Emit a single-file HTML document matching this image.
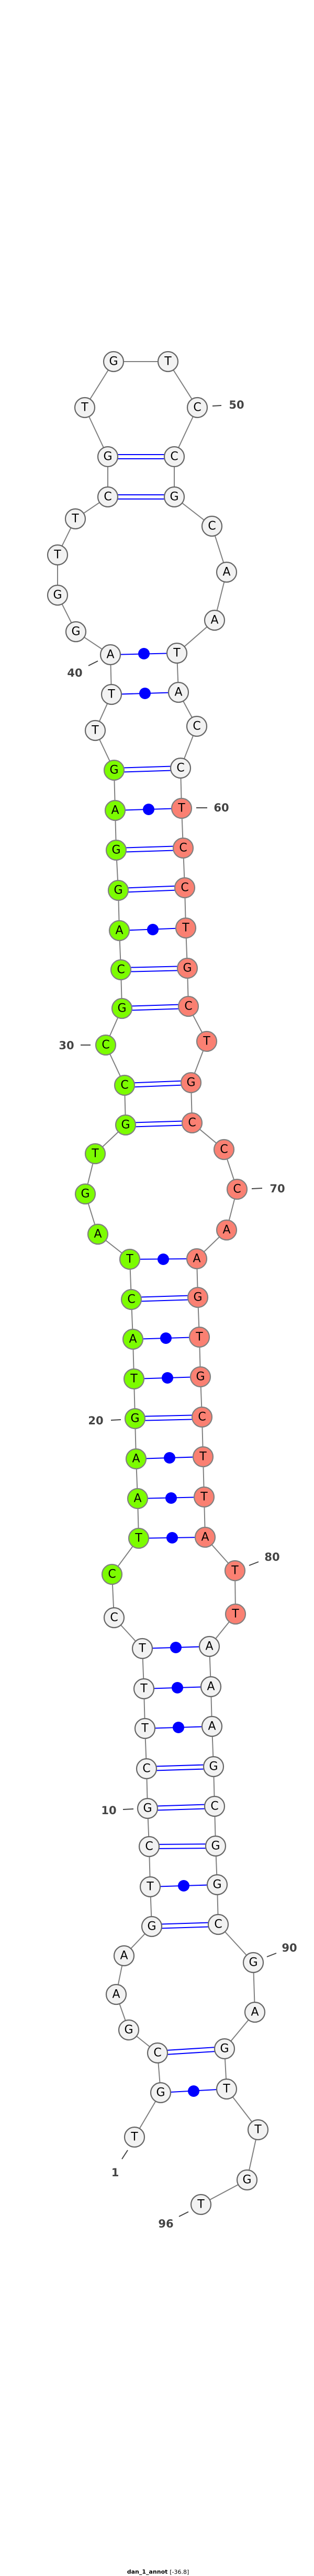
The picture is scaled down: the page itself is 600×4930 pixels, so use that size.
<!DOCTYPE html>
<html><head><meta charset="utf-8"><style>
html,body{margin:0;padding:0;background:#fff;}
svg{display:block;}
.n circle{stroke-width:2.2;}
.w{fill:#f2f2f2;stroke:#666;}
.g{fill:#7cfc00;stroke:#808080;}
.s{fill:#fa8072;stroke:#808080;}
.n text{font-family:"DejaVu Sans","Liberation Sans",sans-serif;font-size:22px;fill:#000;text-anchor:middle;dominant-baseline:central;}
.lb{font-family:"DejaVu Sans","Liberation Sans",sans-serif;font-size:21px;font-weight:bold;fill:#444;text-anchor:middle;dominant-baseline:central;}
.tk{stroke:#444;stroke-width:2;}
.p{stroke:#0000ff;stroke-width:2;}
</style></head><body>
<svg width="600" height="4930" viewBox="0 0 600 4930" xmlns="http://www.w3.org/2000/svg">
<rect width="600" height="4930" fill="#fff"/>
<polyline fill="none" stroke="#808080" stroke-width="2" points="257,4090 307,4005 301,3929 246,3885 222,3817 237,3743 290,3687 287,3611 285,3534 282,3461 280,3385 277,3308 275,3232 272,3155 218,3096 214,3013 265,2944 263,2868 260,2792 258,2715 256,2639 254,2563 251,2487 248,2410 187,2362 163,2285 182,2208 240,2153 238,2077 202,2000 233,1930 231,1856 228,1781 226,1704 222,1627 220,1551 218,1474 182,1398 213,1329 211,1253 145,1209 110,1139 110,1062 144,993 206,951 206,874 162,780 217,692 321,692 377,780 333,874 333,951 405,1007 433,1095 410,1187 338,1250 341,1325 376,1390 345,1470 347,1547 350,1623 353,1699 355,1776 358,1853 360,1926 395,1993 365,2072 367,2149 428,2200 453,2276 433,2354 376,2409 378,2483 381,2559 383,2635 386,2712 388,2788 390,2865 392,2942 449,3006 450,3089 400,3151 403,3228 405,3304 408,3381 410,3457 412,3533 415,3607 417,3683 484,3756 487,3851 429,3921 433,3998 493,4076 472,4172 384,4219"/>
<g class="p">
<!-- dot pairs -->
<line x1="307" y1="4005" x2="433" y2="3998"/><circle cx="370" cy="4002" r="11" fill="#00f" stroke="none"/>
<line x1="287" y1="3611" x2="415" y2="3607"/><circle cx="351" cy="3609" r="11" fill="#00f" stroke="none"/>
<line x1="277" y1="3308" x2="405" y2="3304"/><circle cx="341" cy="3306" r="11" fill="#00f" stroke="none"/>
<line x1="275" y1="3232" x2="403" y2="3228"/><circle cx="339" cy="3230" r="11" fill="#00f" stroke="none"/>
<line x1="272" y1="3155" x2="400" y2="3151"/><circle cx="336" cy="3153" r="11" fill="#00f" stroke="none"/>
<line x1="265" y1="2944" x2="392" y2="2942"/><circle cx="329" cy="2943" r="11" fill="#00f" stroke="none"/>
<line x1="263" y1="2868" x2="390" y2="2865"/><circle cx="327" cy="2867" r="11" fill="#00f" stroke="none"/>
<line x1="260" y1="2792" x2="388" y2="2788"/><circle cx="324" cy="2790" r="11" fill="#00f" stroke="none"/>
<line x1="256" y1="2639" x2="383" y2="2635"/><circle cx="320" cy="2637" r="11" fill="#00f" stroke="none"/>
<line x1="254" y1="2563" x2="381" y2="2559"/><circle cx="317" cy="2561" r="11" fill="#00f" stroke="none"/>
<line x1="248" y1="2410" x2="376" y2="2409"/><circle cx="312" cy="2410" r="11" fill="#00f" stroke="none"/>
<line x1="228" y1="1781" x2="355" y2="1776"/><circle cx="292" cy="1779" r="11" fill="#00f" stroke="none"/>
<line x1="220" y1="1551" x2="347" y2="1547"/><circle cx="284" cy="1549" r="11" fill="#00f" stroke="none"/>
<line x1="213" y1="1329" x2="341" y2="1325"/><circle cx="277" cy="1327" r="11" fill="#00f" stroke="none"/>
<line x1="211" y1="1253" x2="338" y2="1250"/><circle cx="275" cy="1251" r="11" fill="#00f" stroke="none"/>
<!-- double pairs -->
<line x1="301" y1="3925" x2="429" y2="3917"/><line x1="301" y1="3933" x2="429" y2="3925"/>
<line x1="290" y1="3683" x2="417" y2="3679"/><line x1="290" y1="3691" x2="417" y2="3687"/>
<line x1="285" y1="3530" x2="412" y2="3529"/><line x1="285" y1="3538" x2="412" y2="3537"/>
<line x1="282" y1="3457" x2="410" y2="3453"/><line x1="282" y1="3465" x2="410" y2="3461"/>
<line x1="280" y1="3381" x2="408" y2="3377"/><line x1="280" y1="3389" x2="408" y2="3385"/>
<line x1="258" y1="2711" x2="386" y2="2708"/><line x1="258" y1="2719" x2="386" y2="2716"/>
<line x1="251" y1="2483" x2="378" y2="2479"/><line x1="251" y1="2491" x2="378" y2="2487"/>
<line x1="240" y1="2149" x2="367" y2="2145"/><line x1="240" y1="2157" x2="367" y2="2153"/>
<line x1="238" y1="2073" x2="365" y2="2068"/><line x1="238" y1="2081" x2="365" y2="2076"/>
<line x1="233" y1="1926" x2="360" y2="1922"/><line x1="233" y1="1934" x2="360" y2="1930"/>
<line x1="231" y1="1852" x2="358" y2="1849"/><line x1="231" y1="1860" x2="358" y2="1857"/>
<line x1="226" y1="1700" x2="353" y2="1695"/><line x1="226" y1="1708" x2="353" y2="1703"/>
<line x1="222" y1="1623" x2="350" y2="1619"/><line x1="222" y1="1631" x2="350" y2="1627"/>
<line x1="218" y1="1470" x2="345" y2="1466"/><line x1="218" y1="1478" x2="345" y2="1474"/>
<line x1="206" y1="947" x2="333" y2="947"/><line x1="206" y1="955" x2="333" y2="955"/>
<line x1="206" y1="870" x2="333" y2="870"/><line x1="206" y1="878" x2="333" y2="878"/>
</g>
<g class="n">
<circle class="w" cx="257" cy="4090" r="19"/><text x="257" y="4090">T</text>
<circle class="w" cx="307" cy="4005" r="19"/><text x="307" y="4005">G</text>
<circle class="w" cx="301" cy="3929" r="19"/><text x="301" y="3929">C</text>
<circle class="w" cx="246" cy="3885" r="19"/><text x="246" y="3885">G</text>
<circle class="w" cx="222" cy="3817" r="19"/><text x="222" y="3817">A</text>
<circle class="w" cx="237" cy="3743" r="19"/><text x="237" y="3743">A</text>
<circle class="w" cx="290" cy="3687" r="19"/><text x="290" y="3687">G</text>
<circle class="w" cx="287" cy="3611" r="19"/><text x="287" y="3611">T</text>
<circle class="w" cx="285" cy="3534" r="19"/><text x="285" y="3534">C</text>
<circle class="w" cx="282" cy="3461" r="19"/><text x="282" y="3461">G</text>
<circle class="w" cx="280" cy="3385" r="19"/><text x="280" y="3385">C</text>
<circle class="w" cx="277" cy="3308" r="19"/><text x="277" y="3308">T</text>
<circle class="w" cx="275" cy="3232" r="19"/><text x="275" y="3232">T</text>
<circle class="w" cx="272" cy="3155" r="19"/><text x="272" y="3155">T</text>
<circle class="w" cx="218" cy="3096" r="19"/><text x="218" y="3096">C</text>
<circle class="g" cx="214" cy="3013" r="19"/><text x="214" y="3013">C</text>
<circle class="g" cx="265" cy="2944" r="19"/><text x="265" y="2944">T</text>
<circle class="g" cx="263" cy="2868" r="19"/><text x="263" y="2868">A</text>
<circle class="g" cx="260" cy="2792" r="19"/><text x="260" y="2792">A</text>
<circle class="g" cx="258" cy="2715" r="19"/><text x="258" y="2715">G</text>
<circle class="g" cx="256" cy="2639" r="19"/><text x="256" y="2639">T</text>
<circle class="g" cx="254" cy="2563" r="19"/><text x="254" y="2563">A</text>
<circle class="g" cx="251" cy="2487" r="19"/><text x="251" y="2487">C</text>
<circle class="g" cx="248" cy="2410" r="19"/><text x="248" y="2410">T</text>
<circle class="g" cx="187" cy="2362" r="19"/><text x="187" y="2362">A</text>
<circle class="g" cx="163" cy="2285" r="19"/><text x="163" y="2285">G</text>
<circle class="g" cx="182" cy="2208" r="19"/><text x="182" y="2208">T</text>
<circle class="g" cx="240" cy="2153" r="19"/><text x="240" y="2153">G</text>
<circle class="g" cx="238" cy="2077" r="19"/><text x="238" y="2077">C</text>
<circle class="g" cx="202" cy="2000" r="19"/><text x="202" y="2000">C</text>
<circle class="g" cx="233" cy="1930" r="19"/><text x="233" y="1930">G</text>
<circle class="g" cx="231" cy="1856" r="19"/><text x="231" y="1856">C</text>
<circle class="g" cx="228" cy="1781" r="19"/><text x="228" y="1781">A</text>
<circle class="g" cx="226" cy="1704" r="19"/><text x="226" y="1704">G</text>
<circle class="g" cx="222" cy="1627" r="19"/><text x="222" y="1627">G</text>
<circle class="g" cx="220" cy="1551" r="19"/><text x="220" y="1551">A</text>
<circle class="g" cx="218" cy="1474" r="19"/><text x="218" y="1474">G</text>
<circle class="w" cx="182" cy="1398" r="19"/><text x="182" y="1398">T</text>
<circle class="w" cx="213" cy="1329" r="19"/><text x="213" y="1329">T</text>
<circle class="w" cx="211" cy="1253" r="19"/><text x="211" y="1253">A</text>
<circle class="w" cx="145" cy="1209" r="19"/><text x="145" y="1209">G</text>
<circle class="w" cx="110" cy="1139" r="19"/><text x="110" y="1139">G</text>
<circle class="w" cx="110" cy="1062" r="19"/><text x="110" y="1062">T</text>
<circle class="w" cx="144" cy="993" r="19"/><text x="144" y="993">T</text>
<circle class="w" cx="206" cy="951" r="19"/><text x="206" y="951">C</text>
<circle class="w" cx="206" cy="874" r="19"/><text x="206" y="874">G</text>
<circle class="w" cx="162" cy="780" r="19"/><text x="162" y="780">T</text>
<circle class="w" cx="217" cy="692" r="19"/><text x="217" y="692">G</text>
<circle class="w" cx="321" cy="692" r="19"/><text x="321" y="692">T</text>
<circle class="w" cx="377" cy="780" r="19"/><text x="377" y="780">C</text>
<circle class="w" cx="333" cy="874" r="19"/><text x="333" y="874">C</text>
<circle class="w" cx="333" cy="951" r="19"/><text x="333" y="951">G</text>
<circle class="w" cx="405" cy="1007" r="19"/><text x="405" y="1007">C</text>
<circle class="w" cx="433" cy="1095" r="19"/><text x="433" y="1095">A</text>
<circle class="w" cx="410" cy="1187" r="19"/><text x="410" y="1187">A</text>
<circle class="w" cx="338" cy="1250" r="19"/><text x="338" y="1250">T</text>
<circle class="w" cx="341" cy="1325" r="19"/><text x="341" y="1325">A</text>
<circle class="w" cx="376" cy="1390" r="19"/><text x="376" y="1390">C</text>
<circle class="w" cx="345" cy="1470" r="19"/><text x="345" y="1470">C</text>
<circle class="s" cx="347" cy="1547" r="19"/><text x="347" y="1547">T</text>
<circle class="s" cx="350" cy="1623" r="19"/><text x="350" y="1623">C</text>
<circle class="s" cx="353" cy="1699" r="19"/><text x="353" y="1699">C</text>
<circle class="s" cx="355" cy="1776" r="19"/><text x="355" y="1776">T</text>
<circle class="s" cx="358" cy="1853" r="19"/><text x="358" y="1853">G</text>
<circle class="s" cx="360" cy="1926" r="19"/><text x="360" y="1926">C</text>
<circle class="s" cx="395" cy="1993" r="19"/><text x="395" y="1993">T</text>
<circle class="s" cx="365" cy="2072" r="19"/><text x="365" y="2072">G</text>
<circle class="s" cx="367" cy="2149" r="19"/><text x="367" y="2149">C</text>
<circle class="s" cx="428" cy="2200" r="19"/><text x="428" y="2200">C</text>
<circle class="s" cx="453" cy="2276" r="19"/><text x="453" y="2276">C</text>
<circle class="s" cx="433" cy="2354" r="19"/><text x="433" y="2354">A</text>
<circle class="s" cx="376" cy="2409" r="19"/><text x="376" y="2409">A</text>
<circle class="s" cx="378" cy="2483" r="19"/><text x="378" y="2483">G</text>
<circle class="s" cx="381" cy="2559" r="19"/><text x="381" y="2559">T</text>
<circle class="s" cx="383" cy="2635" r="19"/><text x="383" y="2635">G</text>
<circle class="s" cx="386" cy="2712" r="19"/><text x="386" y="2712">C</text>
<circle class="s" cx="388" cy="2788" r="19"/><text x="388" y="2788">T</text>
<circle class="s" cx="390" cy="2865" r="19"/><text x="390" y="2865">T</text>
<circle class="s" cx="392" cy="2942" r="19"/><text x="392" y="2942">A</text>
<circle class="s" cx="449" cy="3006" r="19"/><text x="449" y="3006">T</text>
<circle class="s" cx="450" cy="3089" r="19"/><text x="450" y="3089">T</text>
<circle class="w" cx="400" cy="3151" r="19"/><text x="400" y="3151">A</text>
<circle class="w" cx="403" cy="3228" r="19"/><text x="403" y="3228">A</text>
<circle class="w" cx="405" cy="3304" r="19"/><text x="405" y="3304">A</text>
<circle class="w" cx="408" cy="3381" r="19"/><text x="408" y="3381">G</text>
<circle class="w" cx="410" cy="3457" r="19"/><text x="410" y="3457">C</text>
<circle class="w" cx="412" cy="3533" r="19"/><text x="412" y="3533">G</text>
<circle class="w" cx="415" cy="3607" r="19"/><text x="415" y="3607">G</text>
<circle class="w" cx="417" cy="3683" r="19"/><text x="417" y="3683">C</text>
<circle class="w" cx="484" cy="3756" r="19"/><text x="484" y="3756">G</text>
<circle class="w" cx="487" cy="3851" r="19"/><text x="487" y="3851">A</text>
<circle class="w" cx="429" cy="3921" r="19"/><text x="429" y="3921">G</text>
<circle class="w" cx="433" cy="3998" r="19"/><text x="433" y="3998">T</text>
<circle class="w" cx="493" cy="4076" r="19"/><text x="493" y="4076">T</text>
<circle class="w" cx="472" cy="4172" r="19"/><text x="472" y="4172">G</text>
<circle class="w" cx="384" cy="4219" r="19"/><text x="384" y="4219">T</text>
</g>
<g>
<line class="tk" x1="406" y1="777" x2="423" y2="776"/><text class="lb" x="452" y="775">50</text>
<line class="tk" x1="169" y1="1274" x2="187" y2="1265"/><text class="lb" x="143" y="1288">40</text>
<line class="tk" x1="375" y1="1546" x2="396" y2="1546"/><text class="lb" x="423" y="1546">60</text>
<line class="tk" x1="154" y1="2000" x2="173" y2="2000"/><text class="lb" x="127" y="2001">30</text>
<line class="tk" x1="481" y1="2275" x2="501" y2="2274"/><text class="lb" x="530" y="2275">70</text>
<line class="tk" x1="212" y1="2718" x2="231" y2="2717"/><text class="lb" x="183" y="2719">20</text>
<line class="tk" x1="476" y1="2996" x2="494" y2="2989"/><text class="lb" x="520" y="2980">80</text>
<line class="tk" x1="235" y1="3463" x2="255" y2="3462"/><text class="lb" x="208" y="3465">10</text>
<line class="tk" x1="510" y1="3745" x2="528" y2="3738"/><text class="lb" x="553" y="3728">90</text>
<line class="tk" x1="244" y1="4115" x2="233" y2="4132"/><text class="lb" x="220" y="4158">1</text>
<line class="tk" x1="360" y1="4233" x2="342" y2="4242"/><text class="lb" x="317" y="4256">96</text>
</g>
<text x="302" y="4922" text-anchor="middle" dominant-baseline="central" font-family="DejaVu Sans, Liberation Sans, sans-serif" font-size="11" font-weight="bold" fill="#000">dan_1_annot <tspan font-weight="normal">[-36.8]</tspan></text>
</svg>
</body></html>
